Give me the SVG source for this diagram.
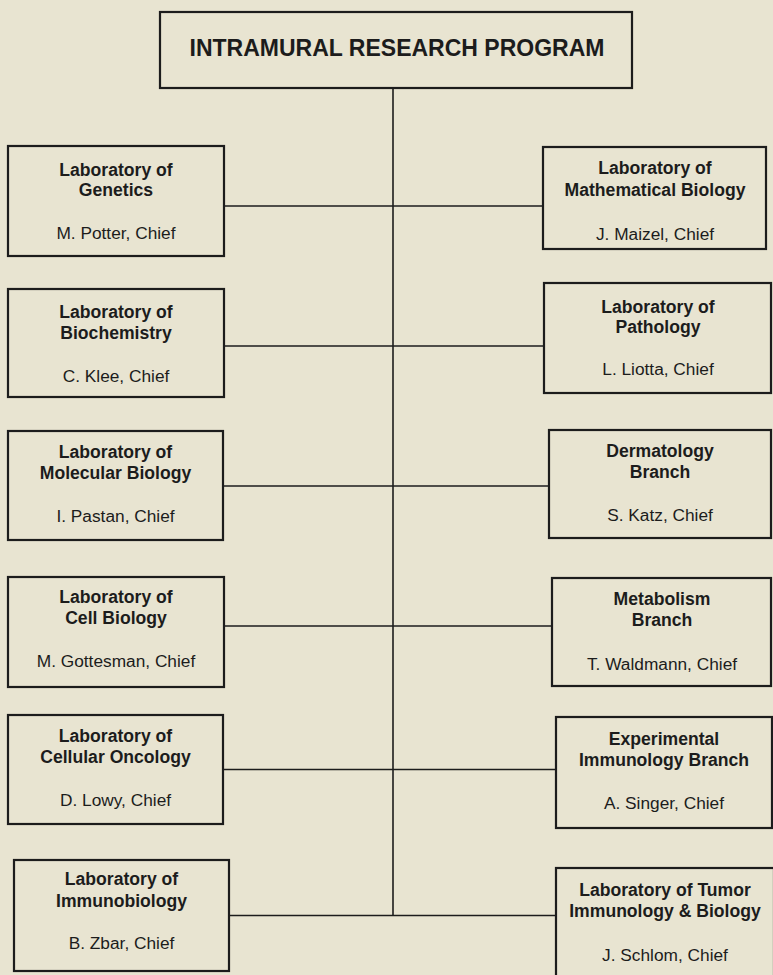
<svg xmlns="http://www.w3.org/2000/svg" width="773" height="975" viewBox="0 0 773 975">
<style>
.bg{fill:#e8e4d1}
.box{fill:#e8e4d1;stroke:#1c1c1c;stroke-width:2.2}
.conn{stroke:#1c1c1c;stroke-width:1.6;fill:none}
.t{font-family:"Liberation Sans",Arial,sans-serif;font-size:17.3px;fill:#1c1c1c;text-anchor:middle}
.b{font-weight:bold;font-size:17.6px}
.title{font-family:"Liberation Sans",Arial,sans-serif;font-size:23px;font-weight:bold;fill:#1c1c1c;text-anchor:middle}
</style>
<rect class="bg" x="0" y="0" width="773" height="975"/>
<g id="connectors">
<line class="conn" x1="393" y1="88" x2="393" y2="916"/>
<line class="conn" x1="224" y1="206" x2="543" y2="206"/>
<line class="conn" x1="224" y1="346" x2="544" y2="346"/>
<line class="conn" x1="223" y1="486" x2="549" y2="486"/>
<line class="conn" x1="224" y1="626" x2="552" y2="626"/>
<line class="conn" x1="223" y1="769.5" x2="556" y2="769.5"/>
<line class="conn" x1="229" y1="915.5" x2="556" y2="915.5"/>
</g>
<g id="root">
<rect class="box" x="160" y="12" width="472" height="76"/>
<text class="title" x="397" y="56">INTRAMURAL RESEARCH PROGRAM</text>
</g>
<g id="lab-genetics">
<rect class="box" x="8" y="146" width="216" height="110"/>
<text class="t b" x="116" y="176">Laboratory of</text>
<text class="t b" x="116" y="196">Genetics</text>
<text class="t" x="116" y="239">M. Potter, Chief</text>
</g>
<g id="lab-biochemistry">
<rect class="box" x="8" y="289" width="216" height="108"/>
<text class="t b" x="116" y="318">Laboratory of</text>
<text class="t b" x="116" y="339">Biochemistry</text>
<text class="t" x="116" y="382">C. Klee, Chief</text>
</g>
<g id="lab-molecular-biology">
<rect class="box" x="8" y="431" width="215" height="109"/>
<text class="t b" x="115.5" y="458">Laboratory of</text>
<text class="t b" x="115.5" y="479">Molecular Biology</text>
<text class="t" x="115.5" y="522">I. Pastan, Chief</text>
</g>
<g id="lab-cell-biology">
<rect class="box" x="8" y="577" width="216" height="110"/>
<text class="t b" x="116" y="603">Laboratory of</text>
<text class="t b" x="116" y="624">Cell Biology</text>
<text class="t" x="116" y="667">M. Gottesman, Chief</text>
</g>
<g id="lab-cellular-oncology">
<rect class="box" x="8" y="715" width="215" height="109"/>
<text class="t b" x="115.5" y="742">Laboratory of</text>
<text class="t b" x="115.5" y="763">Cellular Oncology</text>
<text class="t" x="115.5" y="806">D. Lowy, Chief</text>
</g>
<g id="lab-immunobiology">
<rect class="box" x="14" y="860" width="215" height="111"/>
<text class="t b" x="121.5" y="885">Laboratory of</text>
<text class="t b" x="121.5" y="907">Immunobiology</text>
<text class="t" x="121.5" y="949">B. Zbar, Chief</text>
</g>
<g id="lab-mathematical-biology">
<rect class="box" x="543" y="147" width="223" height="102"/>
<text class="t b" x="655" y="174">Laboratory of</text>
<text class="t b" x="655" y="196">Mathematical Biology</text>
<text class="t" x="655" y="240">J. Maizel, Chief</text>
</g>
<g id="lab-pathology">
<rect class="box" x="544" y="283" width="227" height="110"/>
<text class="t b" x="658" y="313">Laboratory of</text>
<text class="t b" x="658" y="333">Pathology</text>
<text class="t" x="658" y="375">L. Liotta, Chief</text>
</g>
<g id="dermatology-branch">
<rect class="box" x="549" y="430" width="222" height="108"/>
<text class="t b" x="660" y="457">Dermatology</text>
<text class="t b" x="660" y="478">Branch</text>
<text class="t" x="660" y="521">S. Katz, Chief</text>
</g>
<g id="metabolism-branch">
<rect class="box" x="552" y="578" width="219" height="108"/>
<text class="t b" x="662" y="605">Metabolism</text>
<text class="t b" x="662" y="626">Branch</text>
<text class="t" x="662" y="670">T. Waldmann, Chief</text>
</g>
<g id="experimental-immunology-branch">
<rect class="box" x="556" y="717" width="216" height="111"/>
<text class="t b" x="664" y="745">Experimental</text>
<text class="t b" x="664" y="766">Immunology Branch</text>
<text class="t" x="664" y="809">A. Singer, Chief</text>
</g>
<g id="lab-tumor-immunology-biology">
<rect class="box" x="556" y="868" width="218" height="112"/>
<text class="t b" x="665" y="896">Laboratory of Tumor</text>
<text class="t b" x="665" y="917">Immunology &amp; Biology</text>
<text class="t" x="665" y="961">J. Schlom, Chief</text>
</g>
</svg>
